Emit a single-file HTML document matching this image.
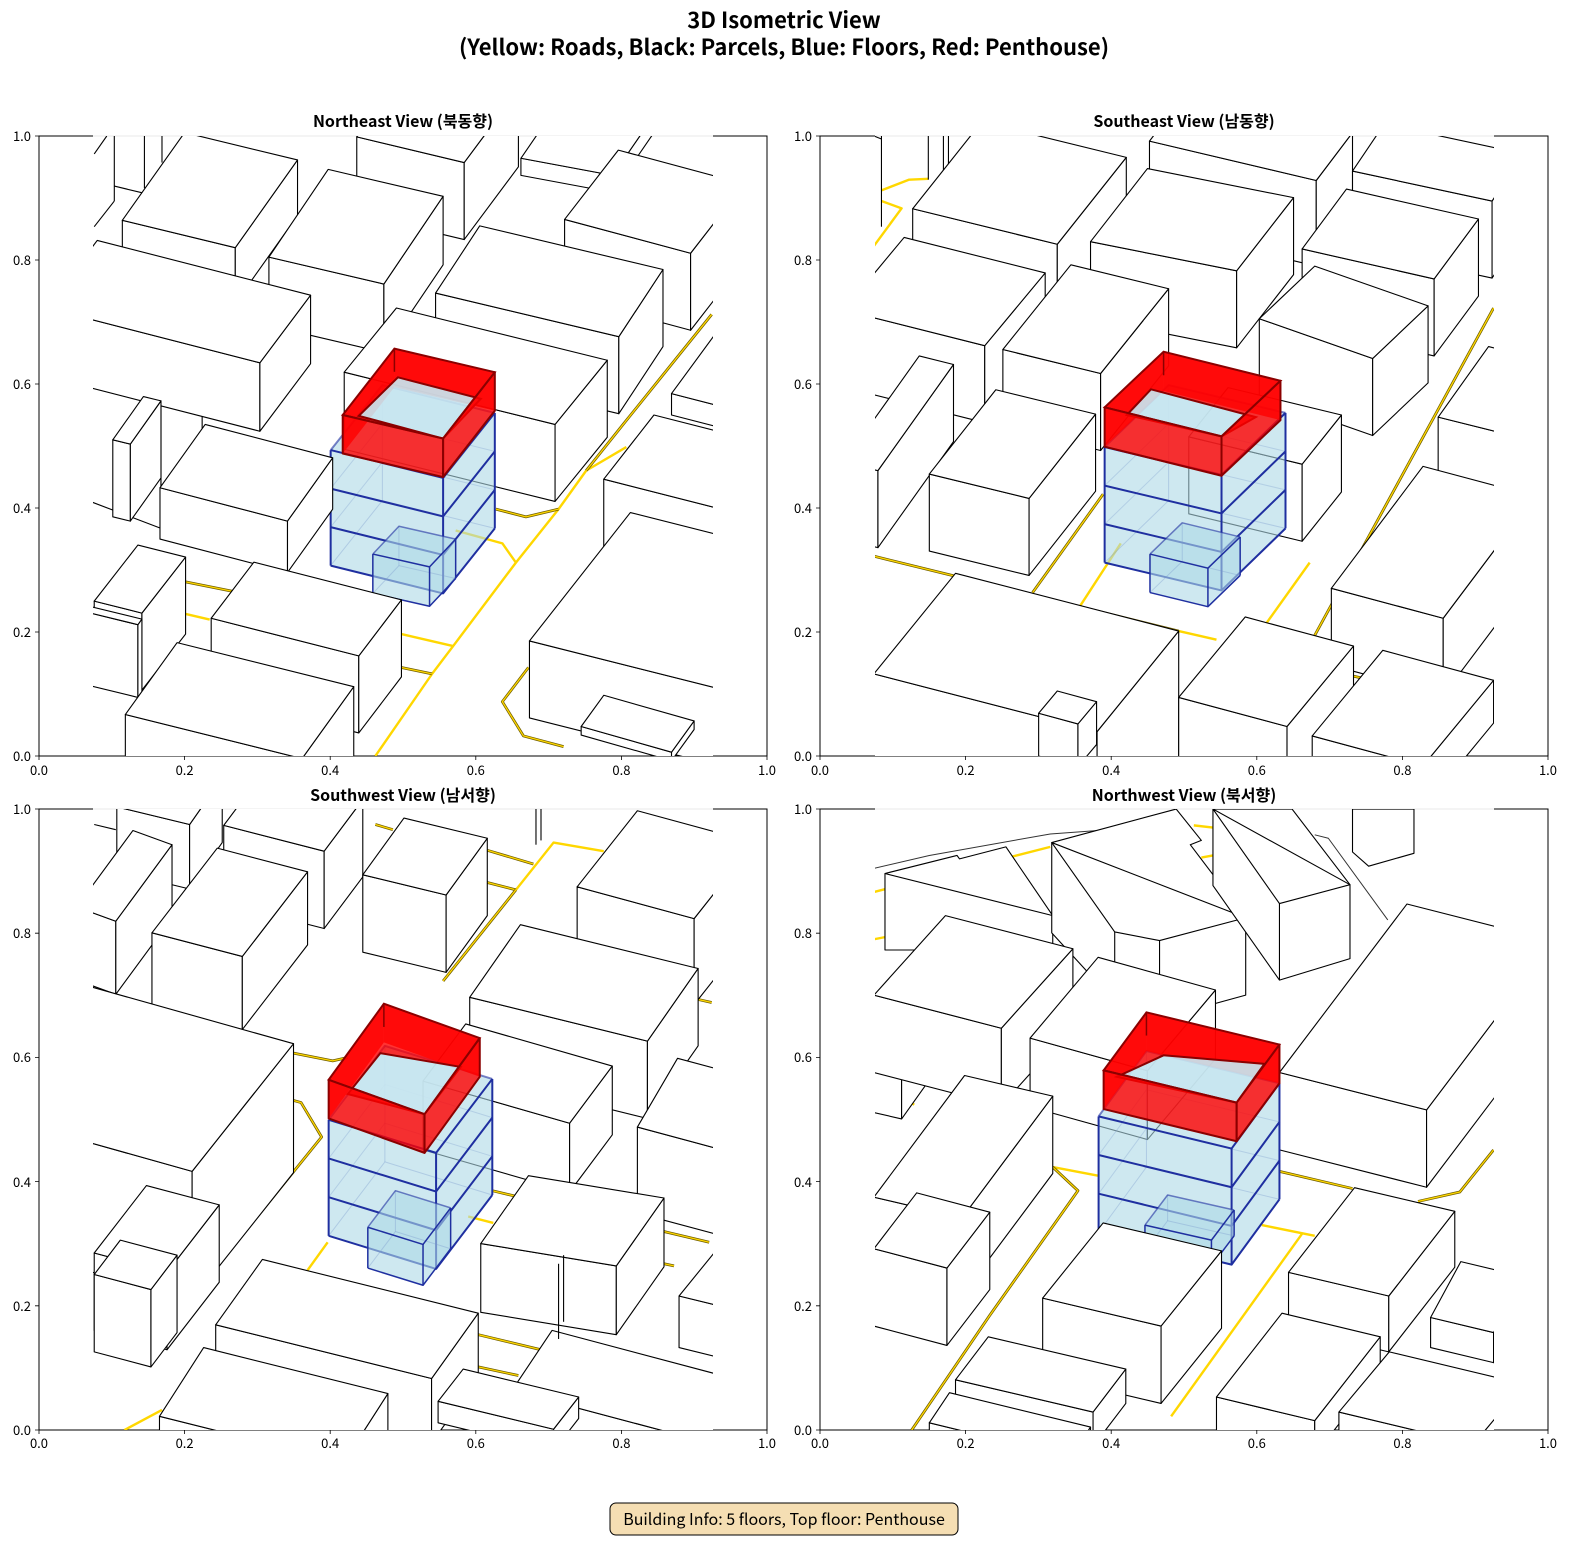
<!DOCTYPE html>
<html><head><meta charset="utf-8">
<style>
html,body{margin:0;padding:0;background:#fff;}
svg{display:block;}
text{font-family:"Noto Sans CJK KR","Liberation Sans",sans-serif;}
.tl{font-size:13px;fill:#000;text-anchor:middle;}
.tr{font-size:13px;fill:#000;text-anchor:end;}
.st{font-size:16px;font-weight:bold;text-anchor:middle;}
</style></head>
<body>
<svg id="s" width="1590" height="1560" viewBox="0 0 1590 1560" xmlns="http://www.w3.org/2000/svg">
<rect width="1590" height="1560" fill="#fff"/>
<text x="784" y="28" font-size="22" font-weight="bold" text-anchor="middle">3D Isometric View</text>
<text x="784" y="55" font-size="22" font-weight="bold" text-anchor="middle">(Yellow: Roads, Black: Parcels, Blue: Floors, Red: Penthouse)</text>

<text class="st" x="403" y="127">Northeast View (북동향)</text>
<text class="st" x="1184" y="127">Southeast View (남동향)</text>
<text class="st" x="403" y="801">Southwest View (남서향)</text>
<text class="st" x="1184" y="801">Northwest View (북서향)</text>

<defs>
<clipPath id="c0"><rect x="93" y="136" width="620" height="620"/></clipPath>
<clipPath id="c1"><rect x="875" y="136" width="619" height="620"/></clipPath>
<clipPath id="c2"><rect x="93" y="809" width="620" height="621"/></clipPath>
<clipPath id="c3"><rect x="875" y="809" width="619" height="621"/></clipPath>
</defs>

<g fill="none" stroke="#000" stroke-width="1">
<rect x="39" y="136" width="728" height="620"/>
<rect x="820" y="136" width="728" height="620"/>
<rect x="39" y="809" width="728" height="621"/>
<rect x="820" y="809" width="728" height="621"/>
</g>
<g fill="#fff">
<rect x="93" y="135.5" width="620" height="620"/>
<rect x="875" y="135.5" width="619" height="620"/>
<rect x="93" y="808.5" width="620" height="621"/>
<rect x="875" y="808.5" width="619" height="621"/>
</g>
<g stroke="#e8e8e8" stroke-width="1">
<line x1="93" y1="136" x2="713" y2="136"/><line x1="875" y1="136" x2="1494" y2="136"/>
<line x1="93" y1="809" x2="713" y2="809"/><line x1="875" y1="809" x2="1494" y2="809"/>
</g>

<g id="p0" clip-path="url(#c0)"><g id="g0" transform="translate(1.35,98.35) scale(0.502,0.4279)"></g></g>
<g id="p1" clip-path="url(#c1)"><g id="g1" transform="translate(768.1,98.35) scale(0.5038,0.4279)"></g></g>
<g id="p2" clip-path="url(#c2)"><g id="g2" transform="translate(1.35,760.9) scale(0.502,0.4298)"></g></g>
<g id="p3" clip-path="url(#c3)"><g id="g3" transform="translate(768.1,760.9) scale(0.5038,0.4298)"></g></g>

<g stroke="#000" stroke-width="0.8">
<path d="M39 756v4M184.6 756v4M330.2 756v4M475.8 756v4M621.4 756v4M767 756v4M820 756v4M965.6 756v4M1111.2 756v4M1256.8 756v4M1402.4 756v4M1548 756v4M39 1430v4M184.6 1430v4M330.2 1430v4M475.8 1430v4M621.4 1430v4M767 1430v4M820 1430v4M965.6 1430v4M1111.2 1430v4M1256.8 1430v4M1402.4 1430v4M1548 1430v4"/>
<path d="M39 756h-4M39 632h-4M39 508h-4M39 384h-4M39 260h-4M39 136h-4M820 756h-4M820 632h-4M820 508h-4M820 384h-4M820 260h-4M820 136h-4M39 1430h-4M39 1305.8h-4M39 1181.6h-4M39 1057.4h-4M39 933.2h-4M39 809h-4M820 1430h-4M820 1305.8h-4M820 1181.6h-4M820 1057.4h-4M820 933.2h-4M820 809h-4"/>
</g>
<g>
<text class="tl" x="39" y="775">0.0</text><text class="tl" x="184.6" y="775">0.2</text><text class="tl" x="330.2" y="775">0.4</text><text class="tl" x="475.8" y="775">0.6</text><text class="tl" x="621.4" y="775">0.8</text><text class="tl" x="767" y="775">1.0</text>
<text class="tl" x="820" y="775">0.0</text><text class="tl" x="965.6" y="775">0.2</text><text class="tl" x="1111.2" y="775">0.4</text><text class="tl" x="1256.8" y="775">0.6</text><text class="tl" x="1402.4" y="775">0.8</text><text class="tl" x="1548" y="775">1.0</text>
<text class="tl" x="39" y="1448">0.0</text><text class="tl" x="184.6" y="1448">0.2</text><text class="tl" x="330.2" y="1448">0.4</text><text class="tl" x="475.8" y="1448">0.6</text><text class="tl" x="621.4" y="1448">0.8</text><text class="tl" x="767" y="1448">1.0</text>
<text class="tl" x="820" y="1448">0.0</text><text class="tl" x="965.6" y="1448">0.2</text><text class="tl" x="1111.2" y="1448">0.4</text><text class="tl" x="1256.8" y="1448">0.6</text><text class="tl" x="1402.4" y="1448">0.8</text><text class="tl" x="1548" y="1448">1.0</text>
</g>
<g>
<text class="tr" x="31" y="761">0.0</text><text class="tr" x="31" y="637">0.2</text><text class="tr" x="31" y="513">0.4</text><text class="tr" x="31" y="389">0.6</text><text class="tr" x="31" y="265">0.8</text><text class="tr" x="31" y="141">1.0</text>
<text class="tr" x="812" y="761">0.0</text><text class="tr" x="812" y="637">0.2</text><text class="tr" x="812" y="513">0.4</text><text class="tr" x="812" y="389">0.6</text><text class="tr" x="812" y="265">0.8</text><text class="tr" x="812" y="141">1.0</text>
<text class="tr" x="31" y="1435">0.0</text><text class="tr" x="31" y="1311">0.2</text><text class="tr" x="31" y="1187">0.4</text><text class="tr" x="31" y="1062">0.6</text><text class="tr" x="31" y="938">0.8</text><text class="tr" x="31" y="814">1.0</text>
<text class="tr" x="812" y="1435">0.0</text><text class="tr" x="812" y="1311">0.2</text><text class="tr" x="812" y="1187">0.4</text><text class="tr" x="812" y="1062">0.6</text><text class="tr" x="812" y="938">0.8</text><text class="tr" x="812" y="814">1.0</text>
</g>

<rect x="610" y="1503" width="348" height="32" rx="6" fill="#f5deb3" stroke="#000" stroke-width="1"/>
<text x="784" y="1525" font-size="16" text-anchor="middle">Building Info: 5 floors, Top floor: Penthouse</text>
</svg>
<script>
var NS="http://www.w3.org/2000/svg";
function el(g,tag,a){var e=document.createElementNS(NS,tag);for(var k in a)e.setAttribute(k,a[k]);e.setAttribute("vector-effect","non-scaling-stroke");g.appendChild(e);return e;}
function ps(a){return a.map(function(p){return p[0]+","+p[1];}).join(" ");}
function poly(g,pts,fill,stroke,w,op){el(g,"polygon",{points:ps(pts),fill:fill,stroke:stroke||"none","stroke-width":w||1.1,"stroke-linejoin":"round","fill-opacity":op==null?1:op});}
function line(g,pts,stroke,w,op){el(g,"polyline",{points:ps(pts),fill:"none",stroke:stroke,"stroke-width":w,"stroke-linejoin":"round","stroke-opacity":op==null?1:op});}
function d(p,h){return [p[0],p[1]+h];}
function box(g,b){var L=[b[0],b[1]],P=[b[2],b[3]],R=[b[4],b[5]],h=b[6];var B=[L[0]+R[0]-P[0],L[1]+R[1]-P[1]];
 poly(g,[L,P,d(P,h),d(L,h)],"#fff","#000",1.1);poly(g,[P,R,d(R,h),d(P,h)],"#fff","#000",1.1);poly(g,[L,P,R,B],"#fff","#000",1.1);}
function road(g,pts,dark){if(dark){line(g,pts,"#6e5d00",2.8);line(g,pts,"#FFD700",1.3);}else line(g,pts,"#FFD700",2.4);}
var BL="rgba(173,216,230,0.6)",BS="#1f2fa0";
function blk(g,L,P,R,f,n,lw){var B=[L[0]+R[0]-P[0],L[1]+R[1]-P[1]],H=f*n;
 line(g,[B,d(B,H)],BS,1,0.35);line(g,[d(L,H),d(B,H),d(R,H)],BS,1,0.35);
 for(var k=1;k<n;k++)line(g,[d(L,k*f),d(B,k*f),d(R,k*f)],BS,1,0.3);
 poly(g,[L,P,d(P,H),d(L,H)],BL);poly(g,[P,R,d(R,H),d(P,H)],BL);poly(g,[L,P,R,B],BL);
 line(g,[L,B,R],BS,lw,0.6);
 for(var k=0;k<=n;k++)line(g,[d(L,k*f),d(P,k*f),d(R,k*f)],BS,lw);
 line(g,[L,d(L,H)],BS,lw);line(g,[P,d(P,H)],BS,lw);line(g,[R,d(R,H)],BS,lw);}
function tower(g,T){var b=T.body;blk(g,b.L,b.P,b.R,b.f,b.n,2);
 var a=T.an;blk(g,a.L,a.P,a.R,a.h,1,1.5);
 var p=T.ph,L=p.L,P=p.P,R=p.R,h=p.h,B=[L[0]+R[0]-P[0],L[1]+R[1]-P[1]],H=p.hole;
 var RD="rgba(255,0,0,0.8)",RS="#8b0000";
 poly(g,[L,d(L,h),d(B,h),B],RD);poly(g,[B,d(B,h),d(R,h),R],RD);
 poly(g,H,"rgba(200,230,240,0.9)",RS,1.2);
 el(g,"path",{d:"M"+ps([L,P,R,B])+"Z M"+ps(H)+"Z",fill:RD,"fill-rule":"evenodd",stroke:RS,"stroke-width":2});
 poly(g,[L,P,d(P,h),d(L,h)],RD,RS,2);poly(g,[P,R,d(R,h),d(P,h)],RD,RS,2);
 line(g,[B,d(B,h*0.6)],RS,1.5);}
var D=[
{roads:[[[745,1537],[858,1345],[900,1280],[1025,1085],[1110,960],[1165,870],[1245,815]],[[1025,1085],[998,1040],[905,1010]],[[900,1280],[797,1252]],[[367,1205],[415,1218]],[[320,850],[345,855]]],
 droads:[[[1165,870],[1240,760],[1415,505]],[[1110,960],[1045,978],[985,960]],[[320,770],[380,790]],[[367,1130],[460,1152]],[[797,1330],[858,1345]],[[1050,1330],[998,1410],[1040,1490],[1120,1515]]],
 lines:[[[225,88],[225,240]],[[285,88],[285,210]],[[320,88],[320,150]],[[225,205],[285,222]],[[185,300],[225,240]],[[185,435],[240,350]],[[185,130],[210,88]],[[1217,180],[1300,50]]],
 pre:[[708,90,922,150,1030,-20,180],[1035,140,1218,180,1300,40,40],[241,285,466,349,590,144,130],[533,371,762,434,880,229,160],[1122,283,1373,362,1480,200,180],[150,630,318,705,400,570,300],[90,490,515,618,616,460,160],[865,455,1230,557,1318,400,180],[683,640,1103,762,1207,612,180],[222,798,257,808,318,707,180],[1335,690,1500,740,1600,580,50]],
 post:[[1200,890,1500,980,1600,830,170],[316,910,570,988,660,840,120],[185,1175,280,1203,367,1072,180],[150,1195,272,1230,280,1217,170],[418,1215,712,1303,797,1172,180],[1052,1268,1600,1430,1801,1130,180],[247,1440,599,1543,702,1375,200],[1155,1468,1335,1528,1380,1455,20]],
 T:{body:{L:[656,822],P:[880,887],R:[983,735],f:90,n:3},an:{L:[740,1065],P:[853,1095],R:[905,1030],h:92},ph:{L:[680,740],P:[880,795],R:[983,640],h:90,hole:[[712,742],[790,652],[955,702],[880,795]]}}},
{roads:[[[225,215],[280,190],[318,188]],[[225,240],[265,257],[210,345]],[[815,1245],[890,1265]],[[620,1185],[700,1040]],[[990,1225],[1075,1085]]],
 droads:[[[210,1070],[815,1245]],[[525,1155],[665,925]],[[1085,1255],[1440,490]],[[1160,1350],[1180,1355]]],
 lines:[[[225,88],[225,300]],[[318,88],[318,190]],[[348,88],[348,175]],[[358,88],[358,165]],[[210,88],[225,95]]],
 pre:[[757,100,1088,192,1160,80,200],[1160,170,1437,240,1500,130,180],[287,258,574,341,711,138,180],[640,335,930,403,1043,232,180],[1060,352,1322,422,1410,282,180],[150,495,430,578,550,408,180],[466,587,660,643,795,445,180],[975,515,1200,608,1310,485,180],[835,791,1060,855,1138,740,180]],
 post:[[150,850,218,870,368,622,180],[320,878,518,935,650,738,180],[1330,745,1500,795,1600,630,140],[1118,1145,1340,1215,1522,930,180],[210,1345,653,1480,815,1245,300],[537,1437,615,1462,652,1410,100],[815,1400,1030,1468,1162,1280,200],[1080,1490,1300,1560,1440,1360,100]],
 T:{body:{L:[668,815],P:[900,880],R:[1027,735],f:90,n:3},an:{L:[758,1065],P:[873,1098],R:[937,1025],h:90},ph:{L:[668,722],P:[900,790],R:[1017,660],h:92,hole:[[712,740],[760,680],[968,745],[900,790]]}}},
{roads:[[[1025,300],[1100,190],[1200,210]],[[245,1557],[320,1510]],[[610,1185],[650,1120]],[[930,1060],[980,1075]]],
 droads:[[[745,148],[780,160]],[[968,208],[1060,240]],[[968,283],[1025,300]],[[1025,300],[880,512]],[[582,680],[660,698],[690,690]],[[582,790],[597,795],[638,875],[434,1170],[300,1380]],[[978,1000],[1410,1120]],[[950,1335],[1075,1370]],[[950,1410],[1030,1430]],[[1388,555],[1415,562]],[[1320,1170],[1340,1175]]],
 lines:[[[185,360],[228,373]],[[1065,110],[1065,195]],[[1075,110],[1075,185]],[[185,148],[228,160]]],
 pre:[[230,107,375,148,440,40,150],[443,150,643,210,720,90,180],[720,265,886,312,968,180,180],[150,340,228,373,340,195,170],[300,400,480,455,610,258,170],[1147,293,1380,367,1500,190,200],[-102,797,380,955,582,658,300],[933,550,1287,652,1388,483,180],[840,745,1132,843,1217,710,160],[1267,852,1420,900,1500,740,200]],
 post:[[185,1145,330,1190,434,1033,180],[955,1123,1225,1175,1320,1017,160],[185,1195,298,1230,350,1150,180],[427,1312,857,1437,950,1285,150],[1350,1245,1420,1265,1500,1150,120],[1017,1465,1420,1590,1500,1450,150],[315,1525,682,1632,770,1472,100],[870,1490,1100,1555,1150,1480,50]],
 post2:[[[1110,1170],[1110,1345]],[[1120,1150],[1120,1305]]],
 T:{body:{L:[652,835],P:[866,912],R:[978,740],f:90,n:3},an:{L:[730,1085],P:[840,1125],R:[895,1040],h:95},ph:{L:[652,742],P:[843,822],R:[953,645],h:90,hole:[[690,775],[755,680],[915,712],[843,822]]}}},
{roads:[[[210,305],[560,200]],[[210,415],[232,410]],[[845,150],[883,155]],[[860,225],[883,220]],[[265,780],[290,800]],[[565,945],[655,965]],[[980,1080],[1085,1105]],[[1060,1100],[800,1525]]],
 droads:[[[565,945],[615,1000],[440,1290],[285,1557]],[[1015,955],[1160,995]],[[1290,1025],[1373,1003],[1440,905]]],
 glines:[[[210,250],[320,220],[560,170],[655,162]],[[1085,172],[1112,180],[1230,370]]],
 polys:[[[232,262],[375,220],[380,228],[472,200],[565,360],[565,440],[232,440]],[[232,262],[565,360]],
  [[563,190],[810,112],[860,185],[838,195],[948,365],[948,545],[777,600],[688,560],[563,400]],[[563,190],[688,398],[777,418],[948,365]],[[688,398],[688,560]],[[777,418],[777,600]],
  [[883,112],[1040,112],[1155,288],[1155,460],[1015,510],[883,290]],[[883,112],[1015,332],[1155,288]],[[1015,332],[1015,510]],
  [[1160,112],[1160,212],[1192,245],[1282,215],[1282,112]]],
 lines:[],
 pre:[[180,670,265,693,330,586,140],[210,545,463,622,605,437,180],[520,645,753,721,888,533,160],[1015,725,1307,812,1560,420,180]],
 post:[[210,1015,385,1063,565,780,180],[210,1135,355,1180,440,1050,180],[545,1250,780,1315,900,1140,180],[1033,1190,1232,1245,1363,1048,130],[1315,1295,1440,1330,1500,1200,70],[372,1440,645,1515,710,1415,80],[890,1480,1085,1535,1215,1340,80],[1133,1515,1400,1590,1500,1450,60],[320,1540,600,1620,640,1550,30]],
 T:{body:{L:[656,827],P:[920,902],R:[1015,750],f:90,n:3},an:{L:[748,1080],P:[880,1115],R:[925,1045],h:60},ph:{L:[666,720],P:[930,795],R:[1015,660],h:90,hole:[[692,735],[785,685],[985,705],[930,795]]}}}
];
D.forEach(function(p,i){var g=document.getElementById("g"+i);
 (p.glines||[]).forEach(function(l){line(g,l,"#333",1);});
 p.roads.forEach(function(r){road(g,r,false);});
 p.droads.forEach(function(r){road(g,r,true);});
 (p.polys||[]).forEach(function(q,j){if(q.length>2&&q[0][0]!==q[q.length-1][0]||q.length>4)poly(g,q,"#fff","#000",1.1);else line(g,q,"#000",1.1);});
 p.lines.forEach(function(l){line(g,l,"#000",1.1);});
 p.pre.forEach(function(b){box(g,b);});
 tower(g,p.T);
 p.post.forEach(function(b){box(g,b);});
 (p.post2||[]).forEach(function(l){line(g,l,"#000",1.1);});
});
</script>
</body></html>
